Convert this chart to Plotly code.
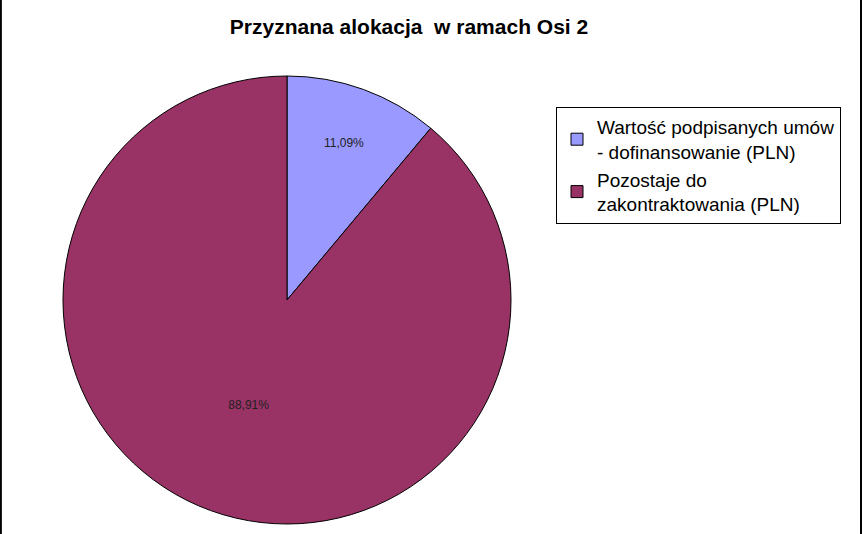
import plotly.graph_objects as go

# chart data
title = "Przyznana alokacja  w ramach Osi 2"
labels = ["Wartość podpisanych umów<br>- dofinansowanie (PLN)",
          "Pozostaje do<br>zakontraktowania (PLN)"]
shares = [11.09, 88.91]
colors = ["#9999FF", "#993366"]

fig = go.Figure(data=[
    go.Pie(labels=labels, values=shares, sort=False, direction="clockwise",
           rotation=0,
           marker=dict(colors=colors, line=dict(color="black", width=1)),
           texttemplate="%{percent:.2%}", textposition="inside",
           insidetextorientation="horizontal",
           textfont=dict(family="Arial, Liberation Sans", size=12, color="#222222"),
           domain=dict(x=[63/864, 511/864], y=[1-524/534, 1-76/534]),
           hoverinfo="label+percent")
])

fig.update_layout(
    width=864, height=534,
    margin=dict(l=0, r=0, t=0, b=0),
    paper_bgcolor="white",
    separators=", ",
    font=dict(family="Arial, Liberation Sans", color="black"),
    title=dict(text="<b>" + title + "</b>", x=409/864, xanchor="center",
               y=1-27/534, yanchor="middle", font=dict(size=21)),
    legend=dict(x=556/864, y=1-107/534, xanchor="left", yanchor="top",
                bordercolor="black", borderwidth=1, font=dict(size=19),
                bgcolor="white"),
    shapes=[
        dict(type="line", xref="paper", yref="paper", x0=0.001, x1=0.001, y0=0, y1=1,
             line=dict(color="black", width=2)),
        dict(type="line", xref="paper", yref="paper", x0=861/864, x1=861/864, y0=0, y1=1,
             line=dict(color="black", width=2)),
    ],
)

# page has a default 8px body margin, drop it so the figure fills the window
fig.write_html("out.html", config={"displayModeBar": False},
               post_script="document.body.style.margin='0';")
